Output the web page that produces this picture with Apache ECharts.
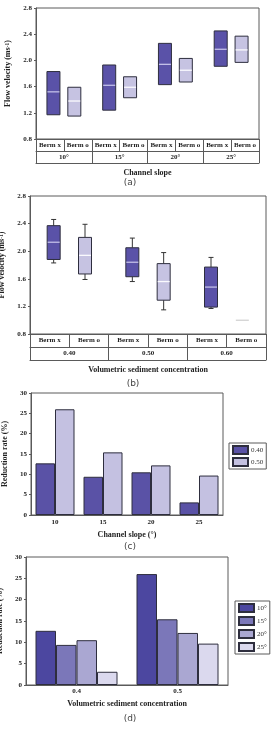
<!DOCTYPE html>
<html>
<head>
    <title>ECharts</title>
    <meta charset="utf-8">
    <style>
        html, body { margin: 0; padding: 0; background: #fff; }
    </style>
</head>
<body>
    <div id="main" style="width:272px;height:732px"></div>
    <script type="text/javascript" src="https://cdn.jsdelivr.net/npm/echarts@6/dist/echarts.min.js"></script>
    <script type="text/javascript">
    // ---- data ----
    var slopeCats = ['10°', '15°', '20°', '25°'];
    var concCats = ['0.40', '0.50', '0.60'];
    var bermPair = ['Berm x', 'Berm o'];

    // (a) flow velocity by channel slope: [low, median, high] per box (no whiskers)
    var aBermX = [[1.17, 1.52, 1.83], [1.24, 1.62, 1.93], [1.63, 1.94, 2.26], [1.91, 2.17, 2.45]];
    var aBermO = [[1.15, 1.38, 1.59], [1.43, 1.59, 1.75], [1.67, 1.85, 2.03], [1.97, 2.16, 2.37]];

    // (b) flow velocity by sediment concentration: [min, q1, median, q3, max]
    var bBermX = [[1.83, 1.88, 2.13, 2.37, 2.46], [1.56, 1.63, 1.84, 2.05, 2.19], [1.17, 1.19, 1.48, 1.77, 1.91]];
    var bBermO = [[1.59, 1.67, 1.94, 2.20, 2.39], [1.15, 1.29, 1.56, 1.82, 1.98], [1.00, 1.00, 1.00, 1.00, 1.00]];

    var velTicks = { min: 0.8, max: 2.8, step: 0.4 };

    // (c) reduction rate by channel slope
    var cSlopes = ['10', '15', '20', '25'];
    var cRate040 = [12.7, 9.4, 10.5, 3.1];
    var cRate050 = [26.0, 15.4, 12.2, 9.7];

    // (d) reduction rate by sediment concentration
    var dConc = ['0.4', '0.5'];
    var dSeriesNames = ['10°', '15°', '20°', '25°'];
    var dRate10 = [12.7, 26.0];
    var dRate15 = [9.4, 15.4];
    var dRate20 = [10.5, 12.2];
    var dRate25 = [3.1, 9.7];

    var rateTicks = { min: 0, max: 30, step: 5 };

    // ---- build ----
    var SERIF = '"Liberation Serif", "DejaVu Serif", serif';
    var LINE = '#5a5a5a';
    var DARK = '#5a52a8', LIGHT = '#c6c3e2';

    var bermCatsA = [], dataA = [];
    slopeCats.forEach(function (s, i) {
        bermCatsA.push(bermPair[0], bermPair[1]);
        var x = aBermX[i], o = aBermO[i];
        dataA.push([2 * i, x[0], x[0], x[1], x[2], x[2]]);
        dataA.push([2 * i + 1, o[0], o[0], o[1], o[2], o[2]]);
    });
    var bermCatsB = [], dataB = [];
    concCats.forEach(function (c, i) {
        bermCatsB.push(bermPair[0], bermPair[1]);
        dataB.push([2 * i].concat(bBermX[i]));
        dataB.push([2 * i + 1].concat(bBermO[i]));
    });

    function boxRenderer(off, w) {
        return function (params, api) {
            var i = api.value(0);
            var lo = api.value(1), q1 = api.value(2), md = api.value(3), q3 = api.value(4), hi = api.value(5);
            var even = i % 2 === 0;
            var x = api.coord([i, md])[0] + (even ? off : -off);
            var yLo = api.coord([i, lo])[1], yQ1 = api.coord([i, q1])[1];
            var yMd = api.coord([i, md])[1], yQ3 = api.coord([i, q3])[1], yHi = api.coord([i, hi])[1];
            if (q1 === q3) {
                return { type: 'line', shape: { x1: x - w / 2, y1: yMd, x2: x + w / 2, y2: yMd },
                    style: { stroke: '#c4c4c4', lineWidth: 1 } };
            }
            var kids = [];
            var cap = 2.5;
            if (hi > q3) {
                kids.push({ type: 'line', shape: { x1: x, y1: yHi, x2: x, y2: yQ3 }, style: { stroke: '#333', lineWidth: 1 } });
                kids.push({ type: 'line', shape: { x1: x - cap, y1: yHi, x2: x + cap, y2: yHi }, style: { stroke: '#333', lineWidth: 1 } });
            }
            if (lo < q1) {
                kids.push({ type: 'line', shape: { x1: x, y1: yQ1, x2: x, y2: yLo }, style: { stroke: '#333', lineWidth: 1 } });
                kids.push({ type: 'line', shape: { x1: x - cap, y1: yLo, x2: x + cap, y2: yLo }, style: { stroke: '#333', lineWidth: 1 } });
            }
            kids.push({ type: 'rect', shape: { x: x - w / 2, y: yQ3, width: w, height: yQ1 - yQ3 },
                style: { fill: even ? DARK : LIGHT, stroke: '#2e2e3e', lineWidth: 1 } });
            kids.push({ type: 'line', shape: { x1: x - w / 2 + 0.5, y1: yMd, x2: x + w / 2 - 0.5, y2: yMd },
                style: { stroke: even ? '#c2bfe8' : '#fafafe', lineWidth: 1.3 } });
            return { type: 'group', children: kids };
        };
    }

    function valueAxis(grid, t, name, gap, fmt) {
        return {
            type: 'value', gridIndex: grid, min: t.min, max: t.max, interval: t.step,
            axisLine: { show: true, lineStyle: { color: LINE } },
            axisTick: { show: true, length: 2, lineStyle: { color: LINE } },
            splitLine: { show: false },
            axisLabel: { fontFamily: SERIF, fontWeight: 'bold', fontSize: 7, color: '#222', margin: 4, formatter: fmt },
            name: name, nameLocation: 'middle', nameRotate: 90, nameGap: gap,
            nameTextStyle: { fontFamily: SERIF, fontWeight: 'bold', fontSize: 8, color: '#222',
                rich: { n: { fontFamily: SERIF, fontWeight: 'bold', fontSize: 8, color: '#222' },
                        s: { fontFamily: SERIF, fontWeight: 'bold', fontSize: 5.5, color: '#222', verticalAlign: 'top' } } }
        };
    }

    function tableAxis(grid, cats, offset, rowH, showLabels) {
        return {
            type: 'category', gridIndex: grid, data: cats, position: 'bottom', offset: offset,
            axisLine: { show: true, lineStyle: { color: LINE } },
            axisTick: { show: true, length: rowH, interval: 0, alignWithLabel: false, lineStyle: { color: LINE } },
            axisLabel: { show: showLabels, interval: 0, margin: 3, fontFamily: SERIF, fontWeight: 'bold', fontSize: 7, color: '#222' },
            splitLine: { show: false }
        };
    }

    function titleAxis(grid, cats, offset, name, gap) {
        return {
            type: 'category', gridIndex: grid, data: cats, position: 'bottom', offset: offset,
            axisLine: { show: true, lineStyle: { color: LINE } },
            axisTick: { show: false }, axisLabel: { show: false }, splitLine: { show: false },
            name: name, nameLocation: 'middle', nameGap: gap,
            nameTextStyle: { fontFamily: SERIF, fontWeight: 'bold', fontSize: 8, color: '#222' }
        };
    }

    var velName = '{n|Flow velocity (ms}{s|-1}{n|)}';
    var fmt1 = function (v) { return v.toFixed(1); };
    var gridBase = { show: true, borderColor: LINE, borderWidth: 1, containLabel: false, outerBoundsMode: 'none' };

    function barSeries(name, data, color, xi, yi, bw) {
        return { name: name, type: 'bar', xAxisIndex: xi, yAxisIndex: yi, data: data, barWidth: bw, barGap: '0%',
            itemStyle: { color: color, borderColor: '#2e2e3e', borderWidth: 1 } };
    }

    var legendBase = { orient: 'vertical', borderColor: LINE, borderWidth: 1, padding: [2, 3, 2, 3],
        itemWidth: 15, itemHeight: 8, itemGap: 2, icon: 'rect',
        textStyle: { fontFamily: SERIF, fontSize: 7, color: '#333', padding: [0, 0, 0, -2] } };

    var option = {
        animation: false,
        backgroundColor: '#fff',
        grid: [
            Object.assign({ left: 36, top: 8, width: 223, height: 131 }, gridBase),
            Object.assign({ left: 30, top: 196, width: 236, height: 138 }, gridBase),
            Object.assign({ left: 31, top: 393, width: 192, height: 122 }, gridBase),
            Object.assign({ left: 26, top: 557, width: 202, height: 128 }, gridBase)
        ],
        xAxis: [
            tableAxis(0, bermCatsA, 0, 12, true),
            tableAxis(0, slopeCats, 12, 12, true),
            titleAxis(0, slopeCats, 24, 'Channel slope', 6),
            tableAxis(1, bermCatsB, 0, 13, true),
            tableAxis(1, concCats, 13, 13, true),
            titleAxis(1, concCats, 26, 'Volumetric sediment concentration', 6),
            {
                type: 'category', gridIndex: 2, data: cSlopes,
                axisLine: { show: true, lineStyle: { color: LINE } }, axisTick: { show: false },
                axisLabel: { fontFamily: SERIF, fontWeight: 'bold', fontSize: 7, color: '#222', margin: 4 },
                name: 'Channel slope (°)', nameLocation: 'middle', nameGap: 16,
                nameTextStyle: { fontFamily: SERIF, fontWeight: 'bold', fontSize: 8, color: '#222' }
            },
            {
                type: 'category', gridIndex: 3, data: dConc,
                axisLine: { show: true, lineStyle: { color: LINE } }, axisTick: { show: false },
                axisLabel: { fontFamily: SERIF, fontWeight: 'bold', fontSize: 7, color: '#222', margin: 3 },
                name: 'Volumetric sediment concentration', nameLocation: 'middle', nameGap: 15,
                nameTextStyle: { fontFamily: SERIF, fontWeight: 'bold', fontSize: 8, color: '#222' }
            }
        ],
        yAxis: [
            valueAxis(0, velTicks, velName, 13, fmt1),
            valueAxis(1, velTicks, velName, 20, fmt1),
            valueAxis(2, rateTicks, 'Reduction rate (%)', 22),
            valueAxis(3, rateTicks, 'Reduction rate (%)', 20)
        ],
        legend: [
            Object.assign({ left: 229, top: 443, data: ['0.40', '0.50'] }, legendBase),
            Object.assign({ left: 235, top: 601, data: dSeriesNames }, legendBase, { itemGap: 3 })
        ],
        series: [
            { type: 'custom', name: 'boxA', xAxisIndex: 0, yAxisIndex: 0, data: dataA,
              encode: { x: 0, y: [1, 2, 3, 4, 5] }, renderItem: boxRenderer(3.5, 13) },
            { type: 'custom', name: 'boxB', xAxisIndex: 3, yAxisIndex: 1, data: dataB,
              encode: { x: 0, y: [1, 2, 3, 4, 5] }, renderItem: boxRenderer(4, 13) },
            barSeries('0.40', cRate040, '#5a52a6', 6, 2, 19.5),
            barSeries('0.50', cRate050, '#c4c1e1', 6, 2, 19.5),
            barSeries(dSeriesNames[0], dRate10, '#4c47a0', 7, 3, 20.5),
            barSeries(dSeriesNames[1], dRate15, '#7b77b9', 7, 3, 20.5),
            barSeries(dSeriesNames[2], dRate20, '#aaa7d2', 7, 3, 20.5),
            barSeries(dSeriesNames[3], dRate25, '#dbd9ee', 7, 3, 20.5)
        ],
        graphic: [
            { type: 'text', x: 130, y: 183, style: { text: '(a)', align: 'center', verticalAlign: 'middle', font: '9px "DejaVu Sans", sans-serif', fill: '#444' } },
            { type: 'text', x: 133, y: 384, style: { text: '(b)', align: 'center', verticalAlign: 'middle', font: '9px "DejaVu Sans", sans-serif', fill: '#444' } },
            { type: 'text', x: 130, y: 547, style: { text: '(c)', align: 'center', verticalAlign: 'middle', font: '9px "DejaVu Sans", sans-serif', fill: '#444' } },
            { type: 'text', x: 130, y: 719, style: { text: '(d)', align: 'center', verticalAlign: 'middle', font: '9px "DejaVu Sans", sans-serif', fill: '#444' } }
        ]
    };

    var myChart = echarts.init(document.getElementById('main'));
    myChart.setOption(option);
    </script>
</body>
</html>
